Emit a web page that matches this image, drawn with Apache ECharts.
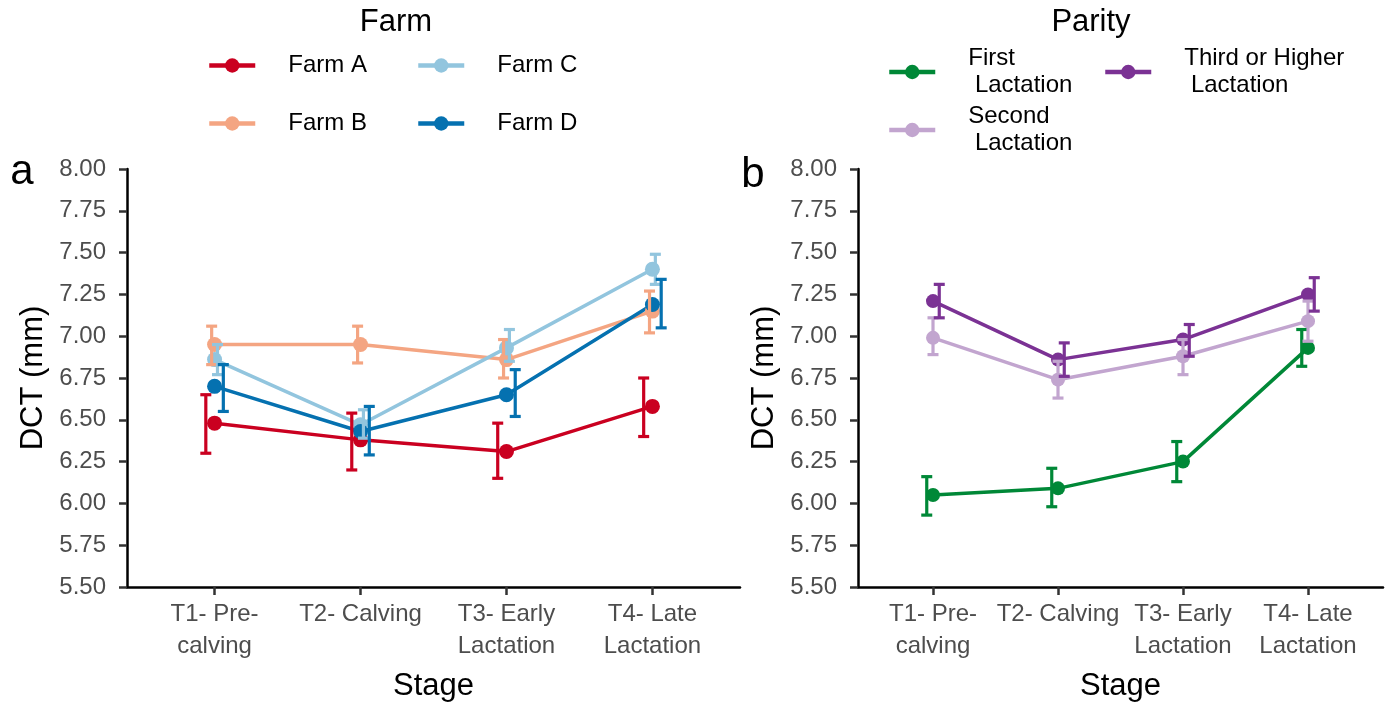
<!DOCTYPE html>
<html>
<head>
<meta charset="utf-8">
<script src="https://cdn.jsdelivr.net/npm/echarts@6/dist/echarts.min.js"></script>
<style>html,body{margin:0;padding:0;background:#fff}#c{width:1387px;height:702px}</style>
</head>
<body>
<div id="c"></div>
<script>
// ---- Data ----
const stages = ['T1- Pre-\ncalving', 'T2- Calving', 'T3- Early\nLactation', 'T4- Late\nLactation'];
const yTickMin = 5.5, yTickMax = 8.0, yTickStep = 0.25;

const farmNames = ['Farm A', 'Farm B', 'Farm C', 'Farm D'];
const farmA_mean = [6.48, 6.38, 6.31, 6.58];
const farmA_lo   = [6.30, 6.20, 6.15, 6.40];
const farmA_hi   = [6.65, 6.54, 6.48, 6.75];
const farmB_mean = [6.95, 6.95, 6.86, 7.15];
const farmB_lo   = [6.83, 6.84, 6.75, 7.02];
const farmB_hi   = [7.06, 7.06, 6.98, 7.27];
const farmC_mean = [6.86, 6.47, 6.93, 7.40];
const farmC_lo   = [6.77, 6.39, 6.85, 7.31];
const farmC_hi   = [6.95, 6.56, 7.04, 7.49];
const farmD_mean = [6.70, 6.43, 6.65, 7.19];
const farmD_lo   = [6.55, 6.29, 6.52, 7.05];
const farmD_hi   = [6.83, 6.58, 6.80, 7.34];

const parityNames = ['First\n Lactation', 'Second\n Lactation', 'Third or Higher\n Lactation'];
const first_mean  = [6.05, 6.09, 6.25, 6.93];
const first_lo    = [5.93, 5.98, 6.13, 6.82];
const first_hi    = [6.16, 6.21, 6.37, 7.04];
const second_mean = [6.99, 6.74, 6.88, 7.09];
const second_lo   = [6.89, 6.63, 6.77, 6.97];
const second_hi   = [7.11, 6.85, 6.98, 7.21];
const third_mean  = [7.21, 6.86, 6.98, 7.25];
const third_lo    = [7.11, 6.76, 6.88, 7.15];
const third_hi    = [7.31, 6.96, 7.07, 7.35];

// ---- Styling / layout ----
const FONT = 'Liberation Sans, Arial, sans-serif';
const farmColors = ['#CA0020', '#F4A582', '#92C5DE', '#0571B0'];
const parityColors = ['#008837', '#C2A5CF', '#7B3294'];
const farmDodge = [-0.06, -0.02, 0.02, 0.06];
const parityDodge = [-0.05, 0, 0.05];

const farmGroups = [
  [farmA_mean, farmA_lo, farmA_hi],
  [farmB_mean, farmB_lo, farmB_hi],
  [farmC_mean, farmC_lo, farmC_hi],
  [farmD_mean, farmD_lo, farmD_hi]
];
const parityGroups = [
  [first_mean, first_lo, first_hi],
  [second_mean, second_lo, second_hi],
  [third_mean, third_lo, third_hi]
];

const xPositions = stages.map((s, i) => i + 1);

function xAxisFor(gridIndex) {
  return {
    type: 'value', gridIndex, min: 0.4, max: 4.6,
    name: 'Stage', nameLocation: 'middle', nameGap: 84,
    nameTextStyle: { fontFamily: FONT, fontSize: 31, color: '#000' },
    axisLine: { show: true, lineStyle: { color: '#000', width: 2.5 } },
    axisTick: { show: true, customValues: xPositions, length: 8, lineStyle: { color: '#333', width: 2.5 } },
    axisLabel: {
      customValues: xPositions, formatter: v => stages[Math.round(v) - 1] || '',
      fontFamily: FONT, fontSize: 24, color: '#4D4D4D', lineHeight: 32, margin: 11, hideOverlap: false
    },
    splitLine: { show: false }
  };
}
function yAxisFor(gridIndex) {
  return {
    type: 'value', gridIndex, min: yTickMin, max: yTickMax, interval: yTickStep,
    name: 'DCT (mm)', nameLocation: 'middle', nameGap: 78, nameRotate: 90,
    nameTextStyle: { fontFamily: FONT, fontSize: 31, color: '#000' },
    axisLine: { show: true, lineStyle: { color: '#000', width: 2.5 } },
    axisTick: { show: true, length: 8, lineStyle: { color: '#333', width: 2.5 } },
    axisLabel: { formatter: v => v.toFixed(2), fontFamily: FONT, fontSize: 24, color: '#4D4D4D', margin: 21 },
    splitLine: { show: false }
  };
}

function errRender(offset, color) {
  return function (params, api) {
    const x = api.value(0) + offset;
    const p1 = api.coord([x, api.value(1)]);
    const p2 = api.coord([x, api.value(2)]);
    const hw = 5.5;
    const st = { stroke: color, lineWidth: 3.2 };
    return {
      type: 'group',
      children: [
        { type: 'line', shape: { x1: p1[0], y1: p1[1], x2: p2[0], y2: p2[1] }, style: st },
        { type: 'line', shape: { x1: p1[0] - hw, y1: p1[1], x2: p1[0] + hw, y2: p1[1] }, style: st },
        { type: 'line', shape: { x1: p2[0] - hw, y1: p2[1], x2: p2[0] + hw, y2: p2[1] }, style: st }
      ]
    };
  };
}

const series = [];
function addGroup(names, groups, colors, dodge, axisIdx, symSize) {
  groups.forEach((g, k) => {
    series.push({
      type: 'line', name: names[k], xAxisIndex: axisIdx, yAxisIndex: axisIdx,
      data: g[0].map((v, i) => [xPositions[i], v]),
      symbol: 'circle', symbolSize: symSize, showSymbol: true,
      lineStyle: { color: colors[k], width: 3.5 }, itemStyle: { color: colors[k] },
      emphasis: { disabled: true }, z: 2
    });
  });
  groups.forEach((g, k) => {
    series.push({
      type: 'custom', name: names[k] + ' error', xAxisIndex: axisIdx, yAxisIndex: axisIdx,
      data: g[1].map((lo, i) => [xPositions[i], lo, g[2][i]]),
      renderItem: errRender(dodge[k], colors[k]), z: 3, silent: true
    });
  });
}
addGroup(farmNames, farmGroups, farmColors, farmDodge, 0, 15);
addGroup(parityNames, parityGroups, parityColors, parityDodge, 1, 14);

function legendItem(name, left, top) {
  return {
    data: [name], left, top, orient: 'horizontal', padding: 0,
    itemWidth: 46, itemHeight: 18, selectedMode: false,
    lineStyle: { width: 4.5 },
    textStyle: { fontFamily: FONT, fontSize: 24, color: '#000', lineHeight: 27, padding: [0, 0, 0, 28] }
  };
}

const option = {
  animation: false,
  backgroundColor: '#fff',
  grid: [
    { left: 127, top: 169, width: 613, height: 418, containLabel: false, outerBoundsMode: 'none' },
    { left: 858, top: 169, width: 525, height: 418, containLabel: false, outerBoundsMode: 'none' }
  ],
  xAxis: [xAxisFor(0), xAxisFor(1)],
  yAxis: [yAxisFor(0), yAxisFor(1)],
  legend: [
    legendItem(farmNames[0], 207, 52),
    legendItem(farmNames[2], 416, 52),
    legendItem(farmNames[1], 207, 110),
    legendItem(farmNames[3], 416, 110),
    legendItem(parityNames[0], 887, 45),
    legendItem(parityNames[2], 1103, 45),
    legendItem(parityNames[1], 887, 103)
  ],
  graphic: [
    { type: 'text', x: 396, y: 22, style: { text: 'Farm', font: '31px ' + FONT, fill: '#000', align: 'center', verticalAlign: 'middle' } },
    { type: 'text', x: 1091, y: 22, style: { text: 'Parity', font: '31px ' + FONT, fill: '#000', align: 'center', verticalAlign: 'middle' } },
    { type: 'text', x: 22, y: 172, style: { text: 'a', font: '42px ' + FONT, fill: '#000', align: 'center', verticalAlign: 'middle' } },
    { type: 'text', x: 753, y: 175, style: { text: 'b', font: '42px ' + FONT, fill: '#000', align: 'center', verticalAlign: 'middle' } }
  ],
  series
};

const chart = echarts.init(document.getElementById('c'), null, { renderer: 'canvas' });
chart.setOption(option);
</script>
</body>
</html>
